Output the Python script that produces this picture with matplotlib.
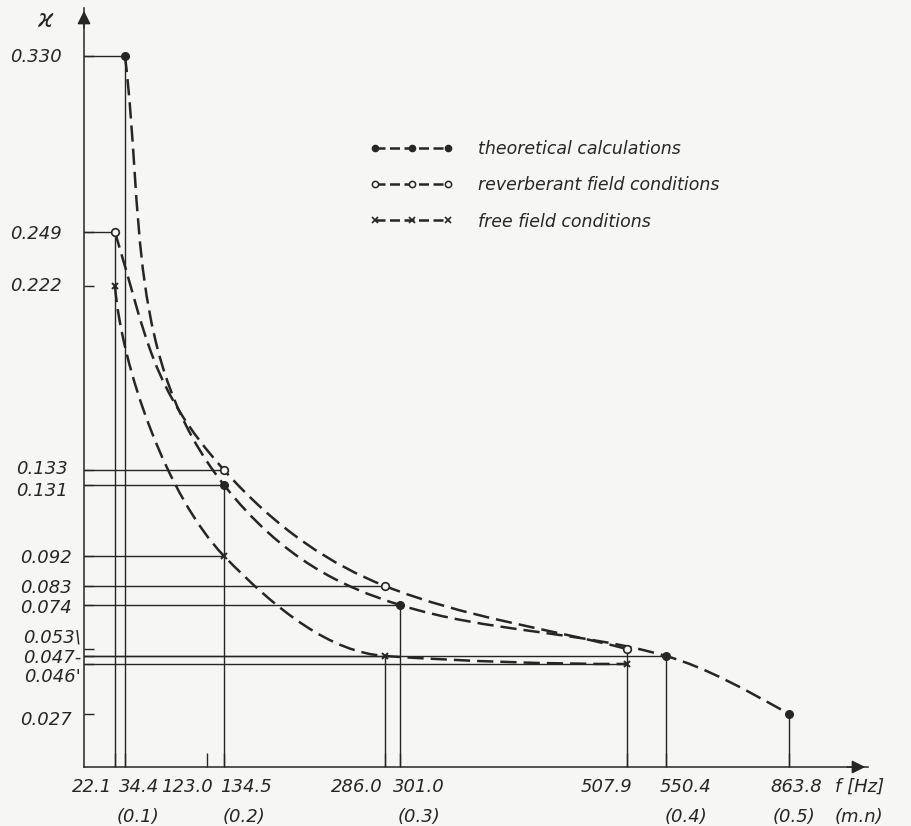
import numpy as np
import matplotlib
matplotlib.use("Agg")
import matplotlib.pyplot as plt
from matplotlib.path import Path
from matplotlib.patches import PathPatch
from matplotlib.lines import Line2D
from matplotlib.transforms import offset_copy, blended_transform_factory

# %% data
theo_f = [34.4, 134.5, 301.0, 550.4, 863.8]
theo_k = [0.330, 0.131, 0.074, 0.047, 0.027]
rev_f = [22.1, 134.5, 286.0, 507.9]
rev_k = [0.249, 0.133, 0.083, 0.053]
free_f = [22.1, 134.5, 286.0, 507.9]
free_k = [0.222, 0.092, 0.047, 0.046]
modes = ["(0.1)", "(0.2)", "(0.3)", "(0.4)", "(0.5)"]

f_ticks = [22.1, 34.4, 123.0, 134.5, 286.0, 301.0, 507.9, 550.4, 863.8]
f_labels = ["22.1", "34.4", "123.0", "134.5", "286.0", "301.0", "507.9", "550.4", "863.8"]
k_ticks = [0.027, 0.046, 0.047, 0.053, 0.074, 0.083, 0.092, 0.131, 0.133, 0.222, 0.249, 0.330]
k_labels = ["0.027", "0.046'", "0.047-", "0.053\\", "0.074", "0.083", "0.092",
            "0.131", "0.133", "0.222", "0.249", "0.330"]

# which points get guide lines back to the axes
theo_h, theo_v = [1, 1, 1, 1, 0], [1, 1, 1, 1, 1]
rev_h, rev_v = [1, 1, 1, 0], [1, 0, 0, 1]
free_h, free_v = [0, 1, 1, 1], [0, 0, 1, 0]

# %% the original axes are hand drawn, not to scale: piecewise mapping
f_brk = [0, 22.1, 34.4, 123.0, 134.5, 286.0, 301.0, 507.9, 550.4, 863.8, 960]
x_brk = [0, 31, 41, 123, 140, 301, 316, 543, 582, 705, 784]
k_brk = [0, 0.027, 0.046, 0.047, 0.053, 0.074, 0.083, 0.092, 0.131, 0.133, 0.222, 0.249, 0.330, 0.353]
y_brk = [0, 53, 103, 111, 118, 162, 181, 211, 282, 297, 481, 535, 711, 759]


def to_x(f):
    return np.interp(f, f_brk, x_brk)


def from_x(p):
    return np.interp(p, x_brk, f_brk)


def to_y(k):
    return np.interp(k, k_brk, y_brk)


def from_y(p):
    return np.interp(p, y_brk, k_brk)


def curve(fs, ks, start, stretch, straight_end=False):
    # bezier through the points in drawing space: first arc from a given
    # start direction, the rest monotone (pchip-like) so nothing overshoots
    x, y = to_x(fs), to_y(ks)
    n = len(x)
    hx = np.diff(x)
    sec = np.diff(y) / hx
    d = np.zeros(n)
    for i in range(1, n - 1):
        if sec[i - 1] * sec[i] > 0:
            w1, w2 = 2 * hx[i] + hx[i - 1], hx[i] + 2 * hx[i - 1]
            d[i] = (w1 + w2) / (w1 / sec[i - 1] + w2 / sec[i])
    if straight_end:
        d[-1] = sec[-1]
    else:
        e = ((2 * hx[-1] + hx[-2]) * sec[-1] - hx[-1] * sec[-2]) / (hx[-1] + hx[-2])
        d[-1] = e if e * sec[-1] > 0 else 0.0

    s = np.array(start, float)
    s /= np.hypot(*s)
    t1 = np.array([1.0, d[1]]) / np.hypot(1.0, d[1])
    h = stretch * np.hypot(hx[0], y[1] - y[0])
    verts = [(x[0], y[0]), (x[0] + h * s[0], y[0] + h * s[1]),
             (x[1] - h * t1[0], y[1] - h * t1[1]), (x[1], y[1])]
    for i in range(1, n - 1):
        a = hx[i] / 3
        verts += [(x[i] + a, y[i] + a * d[i]),
                  (x[i + 1] - a, y[i + 1] - a * d[i + 1]), (x[i + 1], y[i + 1])]
    verts = np.array(verts)
    verts = np.column_stack([from_x(verts[:, 0]), from_y(verts[:, 1])])
    codes = [Path.MOVETO] + [Path.CURVE4] * (len(verts) - 1)
    return Path(verts, codes)


ink = "#262626"
paper = "#f6f6f4"
dash = (0, (6.5, 2.8))

fig = plt.figure(figsize=(9.12, 8.26), dpi=100, facecolor=paper)
ax = fig.add_axes([84 / 912, 59 / 826, 784 / 912, 759 / 826], facecolor=paper)
ax.set_xscale("function", functions=(to_x, from_x))
ax.set_yscale("function", functions=(to_y, from_y))
ax.set_xlim(0, 960)
ax.set_ylim(0, 0.353)

# guide lines
for fs, ks, hs, vs in [(theo_f, theo_k, theo_h, theo_v),
                       (rev_f, rev_k, rev_h, rev_v),
                       (free_f, free_k, free_h, free_v)]:
    for f, k, h, v in zip(fs, ks, hs, vs):
        if h:
            ax.plot([0, f], [k, k], color=ink, lw=1.0)
        if v:
            ax.plot([f, f], [0, k], color=ink, lw=1.0)

# dashed curves
for fs, ks, st, sk, se in [(theo_f, theo_k, (0.12, -1), 0.36, False),
                           (rev_f, rev_k, (0.3, -1), 0.42, True),
                           (free_f, free_k, (0.08, -1), 0.28, False)]:
    ax.add_patch(PathPatch(curve(fs, ks, st, sk, se), fill=False, ec=ink,
                           lw=1.8, ls=dash, capstyle="butt"))

# markers
ax.plot(theo_f, theo_k, ls="none", marker="o", ms=5.5, color=ink, zorder=5)
ax.plot(rev_f, rev_k, ls="none", marker="o", ms=5.5, mfc=paper, mec=ink, mew=1.2, zorder=5)
ax.plot(free_f, free_k, ls="none", marker="x", ms=5, mec=ink, mew=1.4, zorder=5)

# axes
for s in ["top", "right"]:
    ax.spines[s].set_visible(False)
for s in ["left", "bottom"]:
    ax.spines[s].set_color(ink)
    ax.spines[s].set_linewidth(1.1)
ax.set_xticks(f_ticks)
ax.set_yticks(k_ticks)
ax.xaxis.set_minor_locator(matplotlib.ticker.NullLocator())
ax.yaxis.set_minor_locator(matplotlib.ticker.NullLocator())
ax.tick_params(axis="x", direction="in", length=10, width=1, color=ink, labelbottom=False)
ax.tick_params(axis="y", direction="in", length=7, width=1, color=ink, labelleft=False)
ax.annotate("", xy=(0, 1), xytext=(0, 0.97), xycoords="axes fraction",
            arrowprops=dict(arrowstyle="-|>", mutation_scale=20, lw=1.1, color=ink))
ax.annotate("", xy=(1, 0), xytext=(0.97, 0), xycoords="axes fraction",
            arrowprops=dict(arrowstyle="-|>", mutation_scale=20, lw=1.1, color=ink))

txt = dict(color=ink, style="italic", fontsize=13, family="DejaVu Sans")

# y labels (hand placed like the original)
ytr = blended_transform_factory(ax.transAxes, ax.transData)
y_dx = [-12, -3, -3, -3, -12, -12, -12, -16, -16, -22, -22, -22]
y_dy = [-6, -13, -2, 11, -3, -2, -2, -6, 1, 0, -2, -1]
for k, lab, dx, dy in zip(k_ticks, k_labels, y_dx, y_dy):
    ax.text(0, k, lab, ha="right", va="center",
            transform=offset_copy(ytr, fig=fig, x=dx, y=dy, units="dots"), **txt)

# x labels
xtr = ax.get_xaxis_transform()
x_ha = ["right", "left", "right", "left", "right", "left", "right", "left", "left"]
x_dx = [-3, -6, 6, -4, -2, -7, 5, -6, -19]
for f, lab, ha, dx in zip(f_ticks, f_labels, x_ha, x_dx):
    ax.text(f, 0, lab, ha=ha, va="center",
            transform=offset_copy(xtr, fig=fig, x=dx, y=-20, units="dots"), **txt)
m_dx = [-8, -1, -2, -1, -16]
for f, lab, dx in zip(theo_f, modes, m_dx):
    ax.text(f, 0, lab, ha="left", va="center",
            transform=offset_copy(xtr, fig=fig, x=dx, y=-50, units="dots"), **txt)

ax.text(0.958, 0, "f [Hz]", ha="left", va="center", transform=offset_copy(
    ax.transAxes, fig=fig, x=0, y=-20, units="dots"), **txt)
ax.text(0.958, 0, "(m.n)", ha="left", va="center", transform=offset_copy(
    ax.transAxes, fig=fig, x=0, y=-50, units="dots"), **txt)
ax.text(0, 1, "ϰ", ha="center", va="center", transform=offset_copy(
    ax.transAxes, fig=fig, x=-39, y=-12, units="dots"),
    color=ink, fontsize=17, style="italic")

# legend
handles = [
    Line2D([], [], color=ink, lw=1.8, ls=(0, (4, 1.8)), marker="o", ms=4.5),
    Line2D([], [], color=ink, lw=1.8, ls=(0, (4, 1.8)), marker="o", ms=4.5, mfc=paper, mew=1.1),
    Line2D([], [], color=ink, lw=1.8, ls=(0, (4, 1.8)), marker="x", ms=4.5, mew=1.2),
]
labels = ["theoretical calculations", "reverberant field conditions", "free field conditions"]
leg = ax.legend(handles, labels, loc="upper left", bbox_to_anchor=(0.365, 0.826),
                frameon=False, numpoints=3, handlelength=4.8, handletextpad=1.4,
                labelspacing=1.05, borderpad=0, borderaxespad=0,
                prop=dict(family="DejaVu Sans", style="italic", size=12.5))
for t in leg.get_texts():
    t.set_color(ink)

fig.savefig("out.png", dpi=100, facecolor=paper)
